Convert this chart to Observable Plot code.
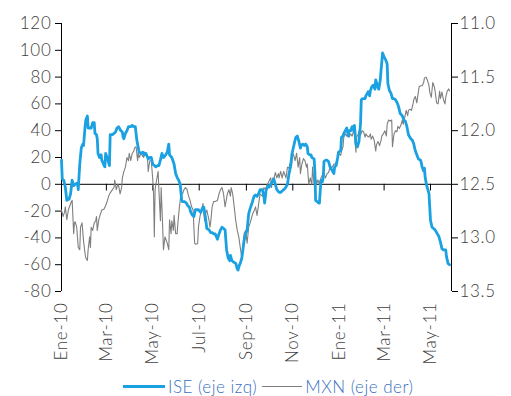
<!DOCTYPE html>
<html><head><meta charset="utf-8">
<script src="https://cdn.jsdelivr.net/npm/d3@7"></script>
<script src="https://cdn.jsdelivr.net/npm/@observablehq/plot@0.6"></script>
<style>
body{margin:0;background:#fff;font-family:Lato,sans-serif;}
#wrap{position:relative;width:511px;height:396px;overflow:hidden;}
#legend{position:absolute;left:123px;top:376px;height:20px;display:flex;align-items:center;font:300 17px Lato,sans-serif;letter-spacing:0.5px;color:#3a70c0;white-space:nowrap;}
.sw{display:inline-block;}
</style></head><body>
<div id="wrap"><div id="chart"></div>
<div id="legend"><span class="sw" style="width:42px;height:3px;background:#1aa1e1;margin-right:3px"></span><span>ISE (eje izq)</span><span class="sw" style="width:40px;height:1px;background:#7f7f7f;margin:0 3px 0 5px"></span><span>MXN (eje der)</span></div>
</div>
<script>
// ISE index (left axis), [days since 1 Jan 2010, value]
const ise = [[0,18],[1,4],[3,3],[5,-2],[7,-12],[10,-11],[12,-7],[14,3],[16,-1],[18,0],[21,1],[22,-4],[24,15],[26,27],[28,30],[29,29],[31,43],[32,48],[34,51],[35,42],[37,42],[39,42],[41,46],[43,46],[44,38],[46,37],[47,34],[48,23],[50,20],[52,22],[53,18],[56,14],[57,13],[58,23],[60,20],[61,18],[63,14],[64,37],[67,37],[69,38],[71,39],[73,42],[75,43],[78,40],[80,39],[81,35],[82,34],[84,38],[86,40],[88,43],[91,43],[93,44],[95,43],[97,43],[99,33],[101,27],[102,24],[105,23],[107,24],[109,22],[111,23],[114,19],[116,20],[118,20],[120,15],[122,14],[124,13],[126,14],[128,14],[130,18],[132,23],[134,20],[137,22],[139,24],[141,30],[142,22],[145,20],[148,15],[150,8],[152,5],[154,3],[156,0],[158,-12],[159,-13],[162,-13],[164,-14],[166,-16],[168,-17],[170,-21],[172,-23],[174,-24],[176,-19],[178,-19],[180,-19],[183,-21],[185,-18],[187,-17],[189,-24],[191,-33],[194,-34],[196,-36],[198,-36],[200,-37],[202,-37],[205,-41],[207,-37],[209,-34],[211,-32],[213,-33],[215,-34],[217,-49],[219,-55],[221,-57],[222,-53],[224,-57],[226,-58],[229,-59],[231,-63],[232,-64],[234,-60],[235,-59],[237,-55],[240,-42],[242,-37],[244,-34],[246,-22],[248,-18],[251,-13],[253,-9],[255,-8],[257,-9],[259,-7],[261,-4],[264,-4],[266,-9],[267,-14],[269,-4],[272,-1],[273,-2],[275,0],[277,2],[279,4],[281,0],[283,-4],[286,-6],[288,-6],[290,-5],[292,-4],[294,-3],[297,0],[299,8],[301,13],[303,23],[305,28],[307,33],[308,35],[310,36],[312,32],[314,27],[315,29],[317,30],[319,29],[321,30],[323,28],[324,23],[326,22],[328,22],[329,20],[332,19],[333,10],[334,-12],[336,-13],[338,-14],[339,-14],[341,3],[343,2],[344,5],[345,17],[347,18],[349,18],[351,17],[353,13],[356,10],[358,8],[359,13],[361,14],[363,20],[364,24],[367,25],[368,35],[370,36],[371,38],[373,40],[375,42],[377,36],[378,40],[380,40],[382,43],[384,40],[385,44],[387,30],[389,28],[391,32],[393,45],[394,63],[396,64],[399,64],[400,66],[403,69],[405,66],[406,70],[408,73],[410,74],[412,71],[413,78],[415,74],[417,71],[419,78],[420,85],[422,98],[424,95],[426,93],[428,90],[429,75],[431,70],[433,68],[435,64],[437,64],[439,63],[441,61],[443,58],[445,53],[448,51],[450,48],[452,47],[454,43],[456,37],[459,34],[461,33],[463,30],[465,25],[467,22],[469,19],[472,18],[474,13],[476,10],[477,12],[478,5],[480,-1],[483,-7],[484,-17],[485,-27],[487,-32],[489,-33],[491,-34],[494,-37],[496,-39],[498,-43],[500,-48],[502,-49],[505,-49],[506,-54],[508,-59],[510,-60]];
// MXN per USD (right axis, inverted), [days since 1 Jan 2010, value]
const mxn = [[0,12.74],[2,12.80],[4,12.76],[5,12.71],[7,12.83],[9,12.74],[11,12.70],[13,12.66],[14,12.65],[16,12.96],[17,12.86],[18,12.85],[20,12.90],[22,13.09],[24,13.11],[25,12.90],[27,12.86],[29,13.03],[31,13.15],[32,13.19],[34,13.21],[35,13.11],[37,12.99],[38,13.09],[39,12.90],[41,12.93],[43,12.86],[45,12.84],[46,12.80],[47,12.93],[49,12.83],[51,12.78],[53,12.74],[56,12.73],[58,12.70],[60,12.66],[62,12.61],[64,12.58],[67,12.55],[69,12.53],[70,12.46],[72,12.55],[74,12.50],[75,12.51],[77,12.59],[79,12.53],[80,12.44],[82,12.38],[84,12.34],[86,12.25],[88,12.28],[89,12.21],[91,12.28],[93,12.21],[95,12.19],[96,12.16],[98,12.15],[100,12.28],[101,12.20],[102,12.25],[105,12.21],[106,12.23],[108,12.25],[109,12.20],[111,12.21],[113,12.25],[114,12.38],[116,12.28],[118,12.28],[120,12.46],[121,12.59],[122,12.99],[123,12.55],[125,12.46],[127,12.38],[128,12.55],[130,12.84],[131,12.53],[133,12.90],[134,13.11],[136,12.99],[138,13.03],[139,13.05],[141,13.11],[142,12.83],[144,12.96],[145,12.84],[147,12.93],[148,12.79],[150,12.96],[152,12.96],[153,12.86],[155,12.71],[157,12.59],[159,12.59],[161,12.55],[163,12.53],[165,12.55],[167,12.61],[169,12.65],[171,12.71],[173,12.74],[174,12.90],[175,13.05],[177,13.06],[179,13.05],[180,12.90],[182,12.80],[184,12.74],[186,12.68],[188,12.84],[189,12.78],[191,12.74],[194,12.84],[195,12.90],[196,12.86],[198,12.71],[200,12.66],[202,12.66],[205,12.65],[207,12.59],[209,12.55],[211,12.53],[213,12.59],[215,12.71],[218,12.59],[220,12.55],[222,12.61],[223,12.53],[225,12.59],[227,12.71],[229,12.84],[231,12.93],[233,12.99],[235,13.09],[237,13.19],[238,13.11],[240,12.96],[242,12.93],[244,13.05],[246,12.90],[248,12.86],[251,12.78],[253,12.75],[255,12.71],[257,12.79],[259,12.69],[261,12.59],[264,12.61],[266,12.53],[268,12.55],[270,12.51],[272,12.48],[275,12.44],[276,12.53],[278,12.44],[279,12.46],[281,12.39],[283,12.44],[285,12.40],[286,12.44],[288,12.38],[290,12.44],[292,12.38],[293,12.40],[295,12.44],[297,12.34],[299,12.35],[300,12.31],[302,12.34],[304,12.21],[306,12.25],[307,12.28],[309,12.21],[311,12.34],[313,12.25],[314,12.40],[316,12.31],[318,12.26],[320,12.28],[322,12.34],[323,12.31],[325,12.50],[327,12.44],[329,12.50],[330,12.34],[332,12.50],[334,12.44],[335,12.50],[337,12.46],[339,12.50],[341,12.44],[343,12.41],[345,12.40],[347,12.44],[349,12.40],[351,12.39],[353,12.34],[356,12.34],[358,12.31],[360,12.31],[362,12.28],[364,12.21],[367,12.23],[368,12.19],[370,12.15],[371,12.06],[373,12.03],[375,12.05],[377,12.00],[378,12.06],[380,12.03],[382,12.05],[384,12.00],[385,12.03],[387,12.20],[388,12.06],[390,12.03],[391,12.00],[393,12.04],[395,12.00],[397,12.01],[399,12.06],[400,12.03],[402,12.05],[404,12.06],[406,12.03],[407,12.08],[409,12.05],[411,12.09],[413,12.19],[414,12.13],[416,12.10],[418,12.14],[420,12.09],[421,12.05],[423,12.03],[425,12.00],[427,12.05],[428,11.94],[430,11.90],[432,11.91],[434,11.90],[435,12.15],[437,12.03],[439,12.00],[441,12.01],[442,11.96],[444,11.98],[446,11.95],[448,11.90],[449,11.94],[451,11.88],[453,11.81],[455,11.86],[456,11.81],[458,11.80],[460,11.81],[462,11.75],[463,11.71],[465,11.68],[467,11.74],[469,11.64],[470,11.59],[472,11.58],[474,11.58],[476,11.55],[477,11.51],[479,11.50],[481,11.53],[483,11.58],[484,11.64],[486,11.69],[488,11.55],[490,11.59],[491,11.63],[493,11.74],[495,11.75],[497,11.63],[498,11.70],[500,11.64],[502,11.71],[504,11.75],[505,11.69],[507,11.63],[509,11.61],[510,11.63]];

const startDate = "2010-01-01";
const endDate = "2011-05-28T14:00:00Z";
const xTickDates = ["2010-01-01","2010-03-01","2010-05-01","2010-07-01","2010-09-01","2010-11-01","2011-01-01","2011-03-01","2011-05-01"];
const xTickLabels = ["Ene-10","Mar-10","May-10","Jul-10","Sep-10","Nov-10","Ene-11","Mar-11","May-11"];
const leftTicks = [-80,-60,-40,-20,0,20,40,60,80,100,120];
const rightTicks = [11.0,11.5,12.0,12.5,13.0,13.5];
const leftDomain = [-80,120];
const rightDomain = [13.5,11.0]; // inverted axis

const t0 = new Date(startDate + "T00:00:00Z");
const dayToDate = d => new Date(+t0 + d * 864e5);
// map MXN onto the left scale (right axis domain aligned with left domain)
const mxnToLeft = d3.scaleLinear().domain(rightDomain).range(leftDomain);

const iseData = ise.map(([d, v]) => ({date: dayToDate(d), v}));
const mxnData = mxn.map(([d, v]) => ({date: dayToDate(d), v: mxnToLeft(v)}));
const tickDates = xTickDates.map(s => new Date(s + "T00:00:00Z"));
const labelByTime = new Map(tickDates.map((d, i) => [+d, xTickLabels[i]]));

const chart = Plot.plot({
  width: 511,
  height: 370,
  marginLeft: 61,
  marginRight: 60,
  marginTop: 23,
  marginBottom: 79,
  style: {fontFamily: "Lato, sans-serif", fontSize: "17px", fontWeight: 300, letterSpacing: "0.7px", color: "#404040", background: "#fff"},
  x: {type: "utc", domain: [t0, new Date(endDate)]},
  y: {domain: leftDomain},
  marks: [
    Plot.ruleY([0], {stroke: "#000", strokeWidth: 1}),
    Plot.ruleX([t0], {stroke: "#000", strokeWidth: 1}),
    Plot.ruleX([new Date(endDate)], {stroke: "#000", strokeWidth: 1}),
    Plot.ruleX(tickDates, {y1: 0, y2: -5, stroke: "#000", strokeWidth: 1}),
    Plot.line(mxnData, {x: "date", y: "v", stroke: "#7f7f7f", strokeWidth: 1.1}),
    Plot.line(iseData, {x: "date", y: "v", stroke: "#1aa1e1", strokeWidth: 2.8, strokeLinejoin: "round"}),
    Plot.axisY({anchor: "left", label: null, ticks: leftTicks, tickSize: 6, tickPadding: 4, tickFormat: d => String(d), stroke: "#000"}),
    Plot.axisY({anchor: "right", label: null, ticks: rightTicks.map(mxnToLeft), tickSize: 6, tickPadding: 2, tickFormat: v => mxnToLeft.invert(v).toFixed(1), stroke: "#000"}),
    Plot.axisX({anchor: "bottom", label: null, ticks: tickDates, tickSize: 0, tickPadding: 11, tickRotate: -90, tickFormat: d => labelByTime.get(+d)})
  ]
});
document.getElementById("chart").appendChild(chart);
</script>
</body></html>
